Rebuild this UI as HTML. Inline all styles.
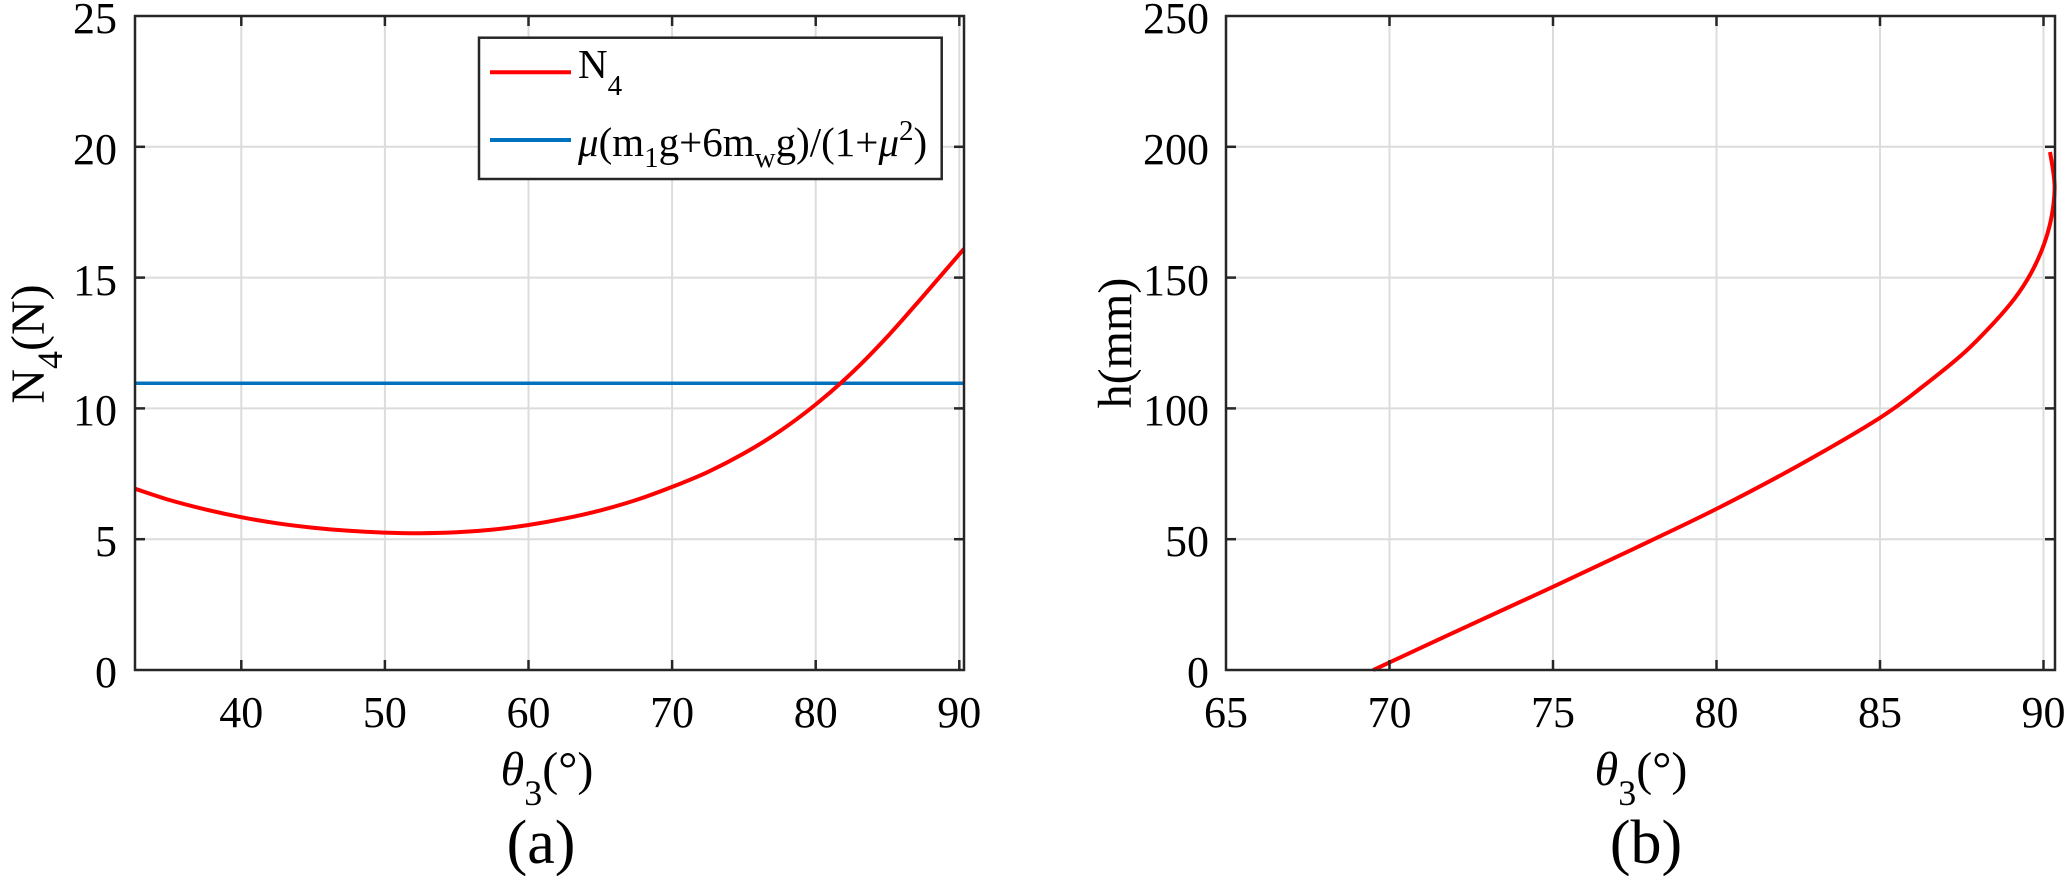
<!DOCTYPE html>
<html>
<head>
<meta charset="utf-8">
<style>
  html,body{margin:0;padding:0;background:#ffffff;}
  svg{display:block;}
  text{font-family:"Liberation Serif","DejaVu Serif",serif;fill:#000;}
</style>
</head>
<body>
<svg id="fig" width="2067" height="876" viewBox="0 0 2067 876" xmlns="http://www.w3.org/2000/svg">
  <rect x="0" y="0" width="2067" height="876" fill="#ffffff"/>

  <!-- ================= LEFT PANEL (a) ================= -->
  <g stroke="#dcdcdc" stroke-width="2" fill="none">
    <line x1="241.3" y1="16" x2="241.3" y2="670"/>
    <line x1="384.9" y1="16" x2="384.9" y2="670"/>
    <line x1="528.5" y1="16" x2="528.5" y2="670"/>
    <line x1="672.1" y1="16" x2="672.1" y2="670"/>
    <line x1="815.7" y1="16" x2="815.7" y2="670"/>
    <line x1="959.3" y1="16" x2="959.3" y2="670"/>
    <line x1="135" y1="539.2" x2="964" y2="539.2"/>
    <line x1="135" y1="408.4" x2="964" y2="408.4"/>
    <line x1="135" y1="277.6" x2="964" y2="277.6"/>
    <line x1="135" y1="146.8" x2="964" y2="146.8"/>
  </g>

  <!-- blue constant line -->
  <line x1="135" y1="383.3" x2="964" y2="383.3" stroke="#0072BD" stroke-width="3.5"/>

  <!-- red N4 curve -->
  <polyline class="smooth" fill="none" stroke="#ff0000" stroke-width="4" stroke-linejoin="round" stroke-linecap="butt"
    points="135.0,488.7 169.5,500.0 205.4,509.4 241.3,517.2 277.2,523.3 313.1,527.7 349.0,530.8 384.9,532.6 420.8,533.2 456.7,532.3 492.6,529.6 528.5,525.0 564.4,518.6 600.3,510.4 636.2,500.0 672.1,486.9 708.0,471.9 743.9,453.4 779.8,431.2 815.7,404.5 851.6,373.1 887.5,336.5 923.4,295.9 964.0,248.8"/>

  <!-- axes box -->
  <rect x="135" y="16" width="829" height="654" fill="none" stroke="#262626" stroke-width="2.5"/>
  <g stroke="#262626" stroke-width="2.5">
    <line x1="241.3" y1="670" x2="241.3" y2="660"/><line x1="241.3" y1="16" x2="241.3" y2="26"/>
    <line x1="384.9" y1="670" x2="384.9" y2="660"/><line x1="384.9" y1="16" x2="384.9" y2="26"/>
    <line x1="528.5" y1="670" x2="528.5" y2="660"/><line x1="528.5" y1="16" x2="528.5" y2="26"/>
    <line x1="672.1" y1="670" x2="672.1" y2="660"/><line x1="672.1" y1="16" x2="672.1" y2="26"/>
    <line x1="815.7" y1="670" x2="815.7" y2="660"/><line x1="815.7" y1="16" x2="815.7" y2="26"/>
    <line x1="959.3" y1="670" x2="959.3" y2="660"/><line x1="959.3" y1="16" x2="959.3" y2="26"/>
    <line x1="135" y1="539.2" x2="145" y2="539.2"/><line x1="964" y1="539.2" x2="954" y2="539.2"/>
    <line x1="135" y1="408.4" x2="145" y2="408.4"/><line x1="964" y1="408.4" x2="954" y2="408.4"/>
    <line x1="135" y1="277.6" x2="145" y2="277.6"/><line x1="964" y1="277.6" x2="954" y2="277.6"/>
    <line x1="135" y1="146.8" x2="145" y2="146.8"/><line x1="964" y1="146.8" x2="954" y2="146.8"/>
  </g>

  <g font-size="44" text-anchor="end">
    <text x="117" y="687">0</text>
    <text x="117" y="556">5</text>
    <text x="117" y="425">10</text>
    <text x="117" y="295">15</text>
    <text x="117" y="164">20</text>
    <text x="117" y="33">25</text>
  </g>
  <g font-size="44" text-anchor="middle">
    <text x="241.3" y="727">40</text>
    <text x="384.9" y="727">50</text>
    <text x="528.5" y="727">60</text>
    <text x="672.1" y="727">70</text>
    <text x="815.7" y="727">80</text>
    <text x="959.3" y="727">90</text>
  </g>

  <text x="547" y="785" font-size="48" text-anchor="middle"><tspan font-style="italic">θ</tspan><tspan font-size="36" dy="20">3</tspan><tspan dy="-20">(°)</tspan></text>
  <text transform="translate(44,344) rotate(-90)" font-size="48" text-anchor="middle">N<tspan font-size="36" dy="18">4</tspan><tspan dy="-18">(N)</tspan></text>

  <!-- legend -->
  <rect x="479" y="37.7" width="462.7" height="141.3" fill="#ffffff" stroke="#262626" stroke-width="2.5"/>
  <line x1="490" y1="72.3" x2="571" y2="72.3" stroke="#ff0000" stroke-width="4"/>
  <line x1="490" y1="140" x2="571" y2="140" stroke="#0072BD" stroke-width="4"/>
  <text x="578" y="78" font-size="41">N<tspan font-size="29" dy="17">4</tspan></text>
  <text x="578" y="156" font-size="41"><tspan font-style="italic">μ</tspan>(m<tspan font-size="29" dy="11">1</tspan><tspan dy="-11">g+6m</tspan><tspan font-size="29" dy="11">w</tspan><tspan dy="-11">g)/(1+</tspan><tspan font-style="italic">μ</tspan><tspan font-size="29" dy="-16">2</tspan><tspan dy="16">)</tspan></text>

  <text x="541" y="863" font-size="62" text-anchor="middle">(a)</text>

  <!-- ================= RIGHT PANEL (b) ================= -->
  <g stroke="#dcdcdc" stroke-width="2" fill="none">
    <line x1="1389.5" y1="16" x2="1389.5" y2="670"/>
    <line x1="1553" y1="16" x2="1553" y2="670"/>
    <line x1="1716.5" y1="16" x2="1716.5" y2="670"/>
    <line x1="1880" y1="16" x2="1880" y2="670"/>
    <line x1="2043.5" y1="16" x2="2043.5" y2="670"/>
    <line x1="1226" y1="539.2" x2="2055" y2="539.2"/>
    <line x1="1226" y1="408.4" x2="2055" y2="408.4"/>
    <line x1="1226" y1="277.6" x2="2055" y2="277.6"/>
    <line x1="1226" y1="146.8" x2="2055" y2="146.8"/>
  </g>

  <polyline class="smooth" fill="none" stroke="#ff0000" stroke-width="4" stroke-linejoin="round"
    points="1373.2,670 1389.5,662.4 1471.3,624.4 1553,586.8 1634.8,548.3 1716.5,508.9 1798.3,465.6 1880,417.8 1924,385.5 1963.4,353.4 1994.5,322.1 2014.9,298.1 2030.5,274.1 2041.8,250.1 2049.5,226.1 2053.5,204.1 2054.6,186.1 2053,170.1 2050,152"/>

  <rect x="1226" y="16" width="829" height="654" fill="none" stroke="#262626" stroke-width="2.5"/>
  <g stroke="#262626" stroke-width="2.5">
    <line x1="1389.5" y1="670" x2="1389.5" y2="660"/><line x1="1389.5" y1="16" x2="1389.5" y2="26"/>
    <line x1="1553" y1="670" x2="1553" y2="660"/><line x1="1553" y1="16" x2="1553" y2="26"/>
    <line x1="1716.5" y1="670" x2="1716.5" y2="660"/><line x1="1716.5" y1="16" x2="1716.5" y2="26"/>
    <line x1="1880" y1="670" x2="1880" y2="660"/><line x1="1880" y1="16" x2="1880" y2="26"/>
    <line x1="2043.5" y1="670" x2="2043.5" y2="660"/><line x1="2043.5" y1="16" x2="2043.5" y2="26"/>
    <line x1="1226" y1="539.2" x2="1236" y2="539.2"/><line x1="2055" y1="539.2" x2="2045" y2="539.2"/>
    <line x1="1226" y1="408.4" x2="1236" y2="408.4"/><line x1="2055" y1="408.4" x2="2045" y2="408.4"/>
    <line x1="1226" y1="277.6" x2="1236" y2="277.6"/><line x1="2055" y1="277.6" x2="2045" y2="277.6"/>
    <line x1="1226" y1="146.8" x2="1236" y2="146.8"/><line x1="2055" y1="146.8" x2="2045" y2="146.8"/>
  </g>

  <g font-size="44" text-anchor="end">
    <text x="1209" y="687">0</text>
    <text x="1209" y="556">50</text>
    <text x="1209" y="425">100</text>
    <text x="1209" y="295">150</text>
    <text x="1209" y="164">200</text>
    <text x="1209" y="33">250</text>
  </g>
  <g font-size="44" text-anchor="middle">
    <text x="1226" y="727">65</text>
    <text x="1389.5" y="727">70</text>
    <text x="1553" y="727">75</text>
    <text x="1716.5" y="727">80</text>
    <text x="1880" y="727">85</text>
    <text x="2043.5" y="727">90</text>
  </g>

  <text x="1641" y="785" font-size="48" text-anchor="middle"><tspan font-style="italic">θ</tspan><tspan font-size="36" dy="20">3</tspan><tspan dy="-20">(°)</tspan></text>
  <text transform="translate(1131,343) rotate(-90)" font-size="48" text-anchor="middle">h(mm)</text>

  <text x="1646" y="863" font-size="62" text-anchor="middle">(b)</text>
</svg>
<script>
(function(){
  var NS="http://www.w3.org/2000/svg";
  var polys=document.querySelectorAll("polyline.smooth");
  for(var k=0;k<polys.length;k++){
    var pl=polys[k];
    var raw=pl.getAttribute("points").trim().split(/\s+/);
    var p=[];
    for(var i=0;i<raw.length;i++){var c=raw[i].split(",");p.push([parseFloat(c[0]),parseFloat(c[1])]);}
    var d="M"+p[0][0]+","+p[0][1];
    for(var i=0;i<p.length-1;i++){
      var p0=p[i>0?i-1:i],p1=p[i],p2=p[i+1],p3=p[i+2<p.length?i+2:i+1];
      var c1x=p1[0]+(p2[0]-p0[0])/6,c1y=p1[1]+(p2[1]-p0[1])/6;
      var c2x=p2[0]-(p3[0]-p1[0])/6,c2y=p2[1]-(p3[1]-p1[1])/6;
      d+=" C"+c1x.toFixed(2)+","+c1y.toFixed(2)+" "+c2x.toFixed(2)+","+c2y.toFixed(2)+" "+p2[0]+","+p2[1];
    }
    var path=document.createElementNS(NS,"path");
    path.setAttribute("d",d);
    path.setAttribute("fill","none");
    path.setAttribute("stroke",pl.getAttribute("stroke"));
    path.setAttribute("stroke-width",pl.getAttribute("stroke-width"));
    path.setAttribute("stroke-linejoin","round");
    pl.parentNode.replaceChild(path,pl);
  }
})();
</script>
</body>
</html>
